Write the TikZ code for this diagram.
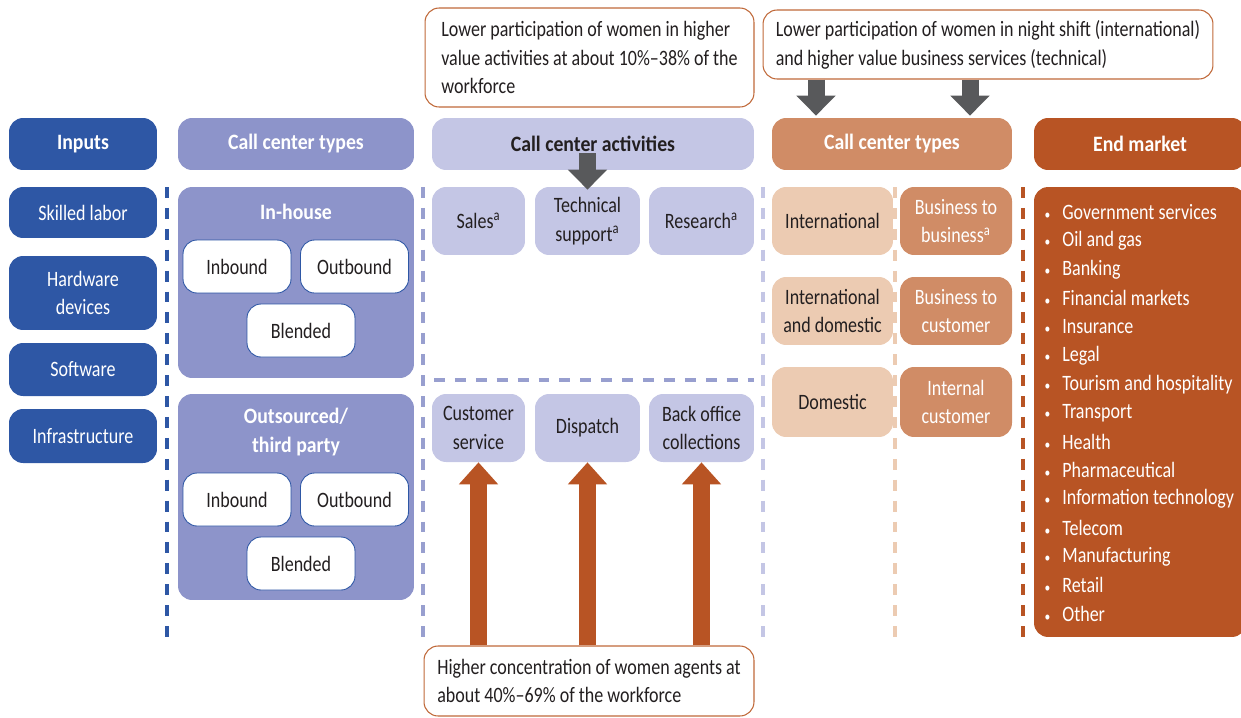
\documentclass[tikz,border=0pt]{standalone}
\usepackage{fontspec}
\setmainfont{Carlito}[FakeStretch=0.82, BoldFeatures={FakeStretch=0.9}]
\usetikzlibrary{arrows.meta}
\definecolor{inblue}{HTML}{2E57A5}
\definecolor{typepurple}{HTML}{8D94CA}
\definecolor{actlav}{HTML}{C4C6E5}
\definecolor{ormid}{HTML}{D08C66}
\definecolor{orlight}{HTML}{ECCBB2}
\definecolor{ordark}{HTML}{B85424}
\definecolor{arrgray}{HTML}{58595B}
\definecolor{txtdark}{HTML}{231F20}
\definecolor{noteline}{HTML}{C0693A}
\begin{document}
\begin{tikzpicture}[
		x=0.02cm, y=-0.02cm,
		every node/.style={font=\fontsize{12.5}{16.4}\selectfont, text=txtdark, align=center, inner sep=0pt},
		box/.style={rounded corners=8pt},
		hdr/.style={box, minimum height=1.04cm, font=\fontsize{12.5}{16.4}\selectfont\bfseries},
		inp/.style={box, fill=inblue, text=white, minimum width=2.96cm},
		subbox/.style={box, fill=white, draw=inblue, line width=0.5pt, minimum width=2.16cm, minimum height=1.06cm},
		act/.style={box, fill=actlav, minimum height=1.36cm},
		intl/.style={box, fill=orlight, minimum width=2.42cm, minimum height=1.36cm},
		bus/.style={box, fill=ormid, text=white, minimum width=2.24cm, minimum height=1.36cm},
		note/.style={box, draw=noteline, line width=0.6pt, fill=white, align=left},
		sep/.style={line width=2pt, dash pattern=on 6.2pt off 5.7pt},
		bigdown/.style={line width=0.34cm, draw=arrgray, -{Triangle[width=0.76cm,length=0.4cm]}},
		bigup/.style={line width=0.33cm, draw=ordark, -{Triangle[width=0.76cm,length=0.44cm]}}
	]
	\useasboundingbox (0,0) rectangle (1241,717);

	% column separators
	\draw[sep, inblue] (167,187) -- (167,638);
	\draw[sep, typepurple!90] (423,187) -- (423,638);
	\draw[sep, typepurple!90] (434,380) -- (754,380);
	\draw[sep, actlav] (763,187) -- (763,638);
	\draw[sep, orlight] (895,187) -- (895,638);
	\draw[sep, ordark] (1023,187) -- (1023,638);

	% headers
	\node[hdr, inp] (inputs) at (83,144) {Inputs};
	\node[hdr, fill=typepurple, text=white, minimum width=4.72cm] (types) at (296,144) {Call center types};
	\node[hdr, fill=actlav, minimum width=6.44cm] (acts) at (593,144) {Call center activities};
	\node[hdr, fill=ormid, text=white, minimum width=4.8cm] (otypes) at (892,144) {Call center types};
	\node[hdr, fill=ordark, text=white, minimum width=4.24cm] (endm) at (1140,144) {End market};

	% inputs
	\node[inp, minimum height=1.02cm] (skill) at (83,212.5) {Skilled labor};
	\node[inp, minimum height=1.48cm] (hard) at (83,293) {Hardware\\devices};
	\node[inp, minimum height=1.06cm] (soft) at (83,369.5) {Software};
	\node[inp, minimum height=1.08cm] (infra) at (83,436) {Infrastructure};

	% call center types
	\node[box, fill=typepurple, minimum width=4.72cm, minimum height=3.82cm] (inhouse) at (296,282.5) {};
	\node[font=\fontsize{12.5}{16.4}\selectfont\bfseries, text=white] (inhouseT) at (296,212) {In-house};
	\node[subbox] (inb1) at (237,266.5) {Inbound};
	\node[subbox] (outb1) at (354.5,266.5) {Outbound};
	\node[subbox] (blend1) at (301,330.5) {Blended};

	\node[box, fill=typepurple, minimum width=4.72cm, minimum height=4.12cm] (outsrc) at (296,497) {};
	\node[font=\fontsize{12.5}{16.4}\selectfont\bfseries, text=white] (outsrcT) at (296,432) {Outsourced/\\third party};
	\node[subbox] (inb2) at (237,499.5) {Inbound};
	\node[subbox] (outb2) at (354.5,499.5) {Outbound};
	\node[subbox] (blend2) at (301,563.5) {Blended};

	% activities
	\node[act, minimum width=1.86cm] (sales) at (478.5,221) {Sales\textsuperscript{a}};
	\node[act, minimum width=2.1cm] (tech) at (587.5,221) {Technical\\support\textsuperscript{a}};
	\node[act, minimum width=2.1cm] (research) at (701.5,221) {Research\textsuperscript{a}};
	\node[act, minimum width=1.86cm] (cust) at (478.5,428) {Customer\\service};
	\node[act, minimum width=2.1cm] (disp) at (587.5,428) {Dispatch};
	\node[act, minimum width=2.1cm] (back) at (701.5,428) {Back office\\collections};

	% orange types
	\node[intl] (intl) at (832.5,221) {International};
	\node[intl] (intdom) at (832.5,311) {International\\and domestic};
	\node[intl, minimum height=1.4cm] (dom) at (832.5,402) {Domestic};
	\node[bus] (btob) at (956,221) {Business to\\business\textsuperscript{a}};
	\node[bus] (btoc) at (956,311) {Business to\\customer};
	\node[bus, minimum height=1.4cm] (intc) at (956,402) {Internal\\customer};

	% end market
	\node[box, fill=ordark, minimum width=4.24cm, minimum height=9cm] (emlist) at (1140,412) {};
	\foreach \txt [count=\i from 0] in {Government services, Oil and gas, Banking, Financial markets, Insurance, Legal, Tourism and hospitality, Transport, Health, Pharmaceutical, Information technology, Telecom, Manufacturing, Retail, Other}
		\node[anchor=west, text=white] (em\i) at (1062,212+28.7*\i) {\llap{{\fontsize{8}{8}\selectfont\textbullet}\hspace{0.24cm}}\txt};

	% notes
	\node[note, minimum width=6.58cm, minimum height=1.98cm] (note1) at (589.5,57.5) {Lower participation of women in higher\\value activities at about 10\%–38\% of the\\workforce};
	\node[note, minimum width=9cm, minimum height=1.38cm] (note2) at (988,44.5) {Lower participation of women in night shift (international)\\and higher value business services (technical)};
	\node[note, minimum width=6.6cm, minimum height=1.4cm] (note3) at (589,681) {Higher concentration of women agents at\\about 40\%–69\% of the workforce};

	% arrows
	\coordinate (d1) at (816,0);
	\coordinate (d2) at (970,0);
	\draw[bigdown] (note2.south -| d1) -- ([yshift=0.04cm]otypes.north -| d1);
	\draw[bigdown] (note2.south -| d2) -- ([yshift=0.04cm]otypes.north -| d2);
	\draw[bigdown] ([yshift=0.34cm]acts.south -| tech.north) -- ([yshift=-0.06cm]tech.north);
	\draw[bigup] (note3.north -| cust.south) -- (cust.south);
	\draw[bigup] (note3.north -| disp.south) -- (disp.south);
	\draw[bigup] (note3.north -| back.south) -- (back.south);
\end{tikzpicture}
\end{document}
